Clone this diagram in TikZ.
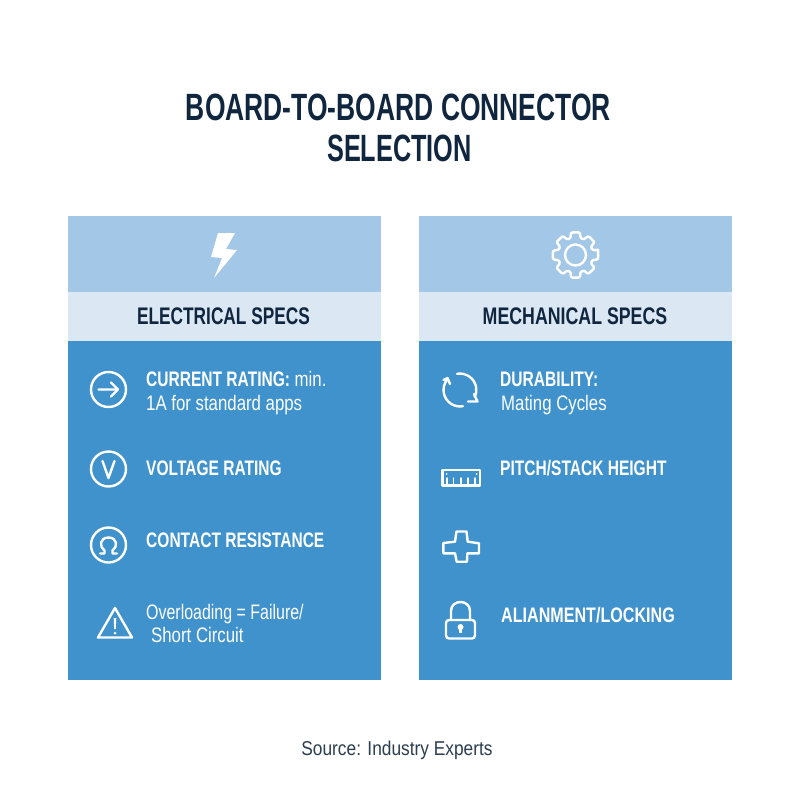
\documentclass[tikz,border=0pt]{standalone}
\usepackage{fontspec}
\setmainfont[FakeStretch=0.8,BoldFeatures={FakeStretch=0.74}]{Liberation Sans}
\newfontfamily\headfont[FakeStretch=0.72]{Liberation Sans Bold}
\newfontfamily\headwide[FakeStretch=0.74]{Liberation Sans Bold}
\newfontfamily\titlefont[FakeStretch=0.696]{Liberation Sans Bold}
\newfontfamily\titletight[FakeStretch=0.665]{Liberation Sans Bold}
\newfontfamily\itemwide[FakeStretch=0.767]{Liberation Sans Bold}
\newfontfamily\tightfont[FakeStretch=0.76]{Liberation Sans}
\newfontfamily\srcfont[FakeStretch=0.866]{Liberation Sans}
\tikzset{
  x=1pt,y=-1pt,
  title/.style={anchor=base,inner sep=0,text=navy,font=\fontsize{38}{38}\titlefont},
  head/.style={anchor=base,inner sep=0,text=navy,font=\fontsize{24}{24}\headfont},
  item/.style={anchor=base west,inner sep=0,text=white,font=\fontsize{21}{21}\selectfont},
  icon/.style={draw=white,line width=2.4pt,line join=round,line cap=round},
  source/.style={anchor=base,inner sep=0,text=srcgrey,font=\fontsize{20}{20}\srcfont}
}
\definecolor{navy}{HTML}{10263F}
\definecolor{srcgrey}{HTML}{2B3D50}
\definecolor{toppanel}{HTML}{A3C7E6}
\definecolor{band}{HTML}{DBE8F4}
\definecolor{body}{HTML}{3F92CC}
\begin{document}
\begin{tikzpicture}
\useasboundingbox (0,0) rectangle (800,800);
\fill[white] (0,0) rectangle (800,800);
% panels
\foreach \l/\r in {68/381,419/732}{
  \fill[toppanel] (\l,216) rectangle (\r,292);
  \fill[band] (\l,292) rectangle (\r,341);
  \fill[body] (\l,341) rectangle (\r,680);
}
% titles
\node[title] (t1) at (398.5,120) {BOARD-TO-BOARD CONNECTOR};
\node[title] (t2) at (399.5,161.5) {\titletight SELECTION};
\node[head] (h1) at (223.5,324) {ELECTRICAL SPECS};
\node[head] (h2) at (575,324) {\headwide MECHANICAL SPECS};
% left texts
\node[item] (a1) at (146,386) {\textbf{CURRENT RATING:} min.};
\node[item] (a2) at (146,410) {1A for standard apps};
\node[item] (a3) at (146,475) {\textbf{VOLTAGE RATING}};
\node[item] (a4) at (146,547) {\textbf{CONTACT RESISTANCE}};
\node[item] (a5) at (146,619) {\tightfont Overloading = Failure/};
\node[item] (a6) at (151,642) {Short Circuit};
% right texts
\node[item] (b1) at (500,386) {\textbf{DURABILITY:}};
\node[item] (b2) at (501,410) {Mating Cycles};
\node[item] (b3) at (500,475) {\textbf{PITCH/STACK HEIGHT}};
\node[item] (b4) at (501,622) {\itemwide ALIANMENT/LOCKING};
\node[source] (src) at (397,755) {Source: Industry Experts};
% bolt
\fill[white] (218,233) -- (235,233) -- (226,249) -- (237,250) -- (214,278) -- (222,258) -- (211,257) -- cycle;
% gear
\begin{scope}[shift={(575.5,255)}]
\draw[icon,rounded corners=1.2pt] (-12:23)
 \foreach \a in {0,45,...,315}{
   -- ({\a-11}:23) -- ({\a+11}:23) -- ({\a+17}:17.5) -- ({\a+28}:17.5)
 } -- cycle;
\draw[icon] (0,0) circle (10.5);
\end{scope}
% arrow circle
\draw[icon] (108.5,389.5) circle (17.5);
\draw[icon] (98.5,389.5) -- (118,389.5) (111,382.5) -- (118,389.5) -- (111,396.5);
% V circle
\draw[icon] (108.5,469) circle (17.5);
\draw[icon] (102.5,461) -- (108.5,478) -- (114.5,461);
% Omega circle
\draw[icon] (108.5,545) circle (17.5);
\draw[icon] (100,553.5) -- (104.5,553.5) -- (104.5,550.5)
  .. controls (99,547) and (99.5,537.5) .. (108.5,537.5)
  .. controls (117.5,537.5) and (118,547) .. (112.5,550.5) -- (112.5,553.5) -- (117,553.5);
% warning triangle
\draw[icon] (115,608) -- (132,637.5) -- (98,637.5) -- cycle;
\fill[white] (113.7,618) -- (116.3,618) -- (115.8,629) -- (114.2,629) -- cycle;
\fill[white] (115,633) circle (1.5);
% refresh
\draw[icon] (446.5,380.5) arc (-145:-280:16.5);
\draw[icon] (457,373.8) arc (-100:25:16.5);
\draw[icon] (443.5,380) -- (447.5,378) -- (450,384);
\draw[icon] (468,401.5) -- (477.5,401.5) -- (474,394);
% ruler
\draw[icon] (442.5,470) rectangle (480,485.5);
\foreach \x in {447,453.5,461,468,475}{\draw[icon,line width=1.4pt] (\x,478) -- (\x,484);}
\fill[white] (446.5,474) circle (1) (476.5,474) circle (1);
% cross
\draw[icon,line width=2.4pt] (456.5,531.5) -- (466.5,531.5) -- (467.7,541.7) -- (479,543.3) -- (479,553.3) -- (467.3,553.3) -- (467,561.7) -- (456.7,561.7) -- (455,553.3) -- (443.3,553.3) -- (443.3,543) -- (455,541.7) -- cycle;
% lock
\draw[icon,rounded corners=3pt] (446,620) rectangle (475,638.5);
\draw[icon] (451,620) -- (451,611) .. controls (451,599) and (470,599) .. (470,611) -- (470,620);
\fill[white] (460.5,627) circle (3);
\fill[white] (459.2,627) rectangle (461.8,633);
\end{tikzpicture}
\end{document}
